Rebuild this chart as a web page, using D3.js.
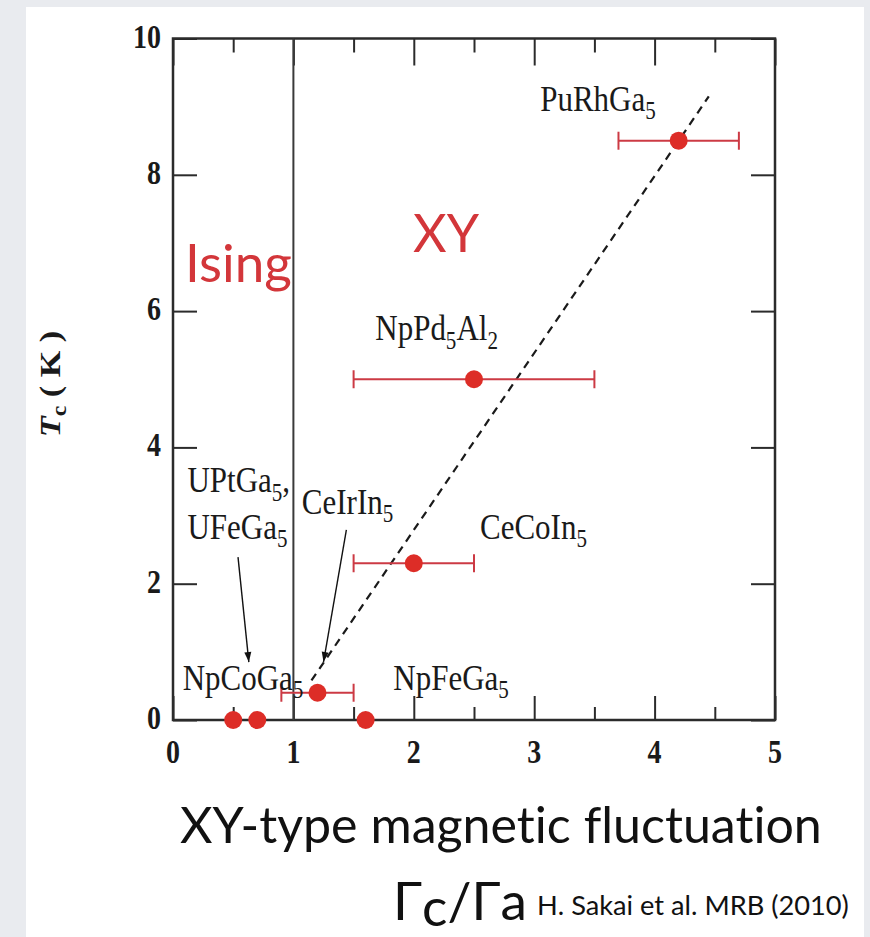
<!DOCTYPE html>
<html>
<head>
<meta charset="utf-8">
<script src="https://cdn.jsdelivr.net/npm/d3@7"></script>
<style>
  html, body { margin: 0; padding: 0; background: #e9ebef; }
  svg { display: block; }
  text { font-variant-ligatures: none; font-feature-settings: "liga" 0; }
</style>
</head>
<body>
<svg id="chart" width="870" height="937"></svg>
<script>
// ---- data ----
const compounds = ["PuRhGa5", "NpPd5Al2", "CeCoIn5", "CeIrIn5", "UPtGa5", "UFeGa5", "NpFeGa5"];
const ratio     = [4.2, 2.5, 2.0, 1.2, 0.5, 0.7, 1.6];   // Γc/Γa
const tc        = [8.5, 5.0, 2.3, 0.4, 0.0, 0.0, 0.0];   // Tc (K)
const ratioLo   = [3.7, 1.5, 1.5, 0.9, null, null, null];
const ratioHi   = [4.7, 3.5, 2.5, 1.5, null, null, null];

// dashed guide line (two end points)
const guideX = [1.15, 4.45];
const guideY = [0.58, 9.15];

const xMajor = [0, 1, 2, 3, 4, 5];
const xMinor = [0.5, 1.5, 2.5, 3.5, 4.5];
const yMajor = [0, 2, 4, 6, 8, 10];

// ---- layout ----
const svg = d3.select("#chart");
const x = d3.scaleLinear().domain([0, 5]).range([173, 775]);
const y = d3.scaleLinear().domain([0, 10]).range([720, 38.5]);
const RED = "#dd2d27";
const BAR = "#cc3a44";
const AX = "#2b2b2b";
const SERIF = "'Liberation Serif', 'Times New Roman', serif";
const SANS = "Lato, 'Open Sans', sans-serif";
const STRETCH = 1.18;

// white slide panel
svg.append("rect").attr("x", 26).attr("y", 7).attr("width", 838).attr("height", 940).attr("fill", "#ffffff");

// ---- axes (ticks point inward) ----
const axG = svg.append("g").attr("stroke-width", 2);

function tickAxis(gen, transform) {
  const g = axG.append("g").attr("transform", transform).call(gen);
  g.selectAll("text").remove();
  g.select(".domain").remove();
  g.selectAll("line").attr("stroke", AX).attr("stroke-width", 2);
  return g;
}
// bottom
tickAxis(d3.axisBottom(x).tickValues(xMajor).tickSize(-24), `translate(0,${y(0)})`);
tickAxis(d3.axisBottom(x).tickValues(xMinor).tickSize(-13), `translate(0,${y(0)})`);
// top
tickAxis(d3.axisTop(x).tickValues(xMajor).tickSize(-27), `translate(0,${y(10)})`);
tickAxis(d3.axisTop(x).tickValues(xMinor).tickSize(-14), `translate(0,${y(10)})`);
// left / right
tickAxis(d3.axisLeft(y).tickValues(yMajor).tickSize(-24), `translate(${x(0)},0)`);
tickAxis(d3.axisRight(y).tickValues(yMajor).tickSize(-24), `translate(${x(5)},0)`);

// frame
axG.append("rect")
  .attr("x", x(0)).attr("y", y(10))
  .attr("width", x(5) - x(0)).attr("height", y(0) - y(10))
  .attr("fill", "none").attr("stroke", AX).attr("stroke-width", 2.5);

// Ising / XY boundary at Γc/Γa = 1
axG.append("line")
  .attr("x1", x(1)).attr("x2", x(1)).attr("y1", y(10)).attr("y2", y(0))
  .attr("stroke", "#3a3a3a").attr("stroke-width", 2);

// stretched serif text helper
function serifText(px, py, parts, opts = {}) {
  const size = opts.size || 31;
  const g = svg.append("g").attr("transform", `translate(${px},${py}) scale(1,${STRETCH})`);
  const t = g.append("text")
    .attr("font-family", SERIF)
    .attr("font-size", size)
    .attr("font-weight", opts.weight || "normal")
    .attr("text-anchor", opts.anchor || "start")
    .attr("fill", opts.fill || "#1a1a1a");
  parts.forEach(p => {
    const s = t.append("tspan").text(p.t);
    if (p.sub) s.attr("font-size", size * 0.68).attr("dy", 7);
    if (p.back) s.attr("dy", -7);
  });
  return g;
}

// tick labels
xMajor.forEach(v => serifText(x(v), 763, [{ t: String(v) }], { size: 28, weight: "bold", anchor: "middle" }));
yMajor.forEach(v => serifText(161, y(v) + 9, [{ t: String(v) }], { size: 28, weight: "bold", anchor: "end" }));

// y axis title
{
  const g = svg.append("g").attr("transform", `translate(60,384) rotate(-90) scale(${STRETCH},1)`);
  const t = g.append("text").attr("font-family", SERIF).attr("font-size", 29)
    .attr("font-weight", "bold").attr("text-anchor", "middle").attr("fill", "#1a1a1a");
  t.append("tspan").text("T").attr("font-style", "italic");
  t.append("tspan").text("c").attr("font-size", 20).attr("dy", 6);
  t.append("tspan").text(" ( K )").attr("dy", -6);
}

// ---- dashed guide ----
svg.append("line")
  .attr("x1", x(guideX[0])).attr("y1", y(guideY[0]))
  .attr("x2", x(guideX[1])).attr("y2", y(guideY[1]))
  .attr("stroke", "#1a1a1a").attr("stroke-width", 2.2).attr("stroke-dasharray", "8,6");

// ---- error bars ----
const pts = compounds.map((c, i) => ({ c, x: ratio[i], y: tc[i], lo: ratioLo[i], hi: ratioHi[i] }));
const eb = svg.append("g").attr("stroke", BAR).attr("stroke-width", 2);
pts.filter(d => d.lo != null).forEach(d => {
  eb.append("line").attr("x1", x(d.lo)).attr("x2", x(d.hi)).attr("y1", y(d.y)).attr("y2", y(d.y));
  [d.lo, d.hi].forEach(v => eb.append("line")
    .attr("x1", x(v)).attr("x2", x(v)).attr("y1", y(d.y) - 9).attr("y2", y(d.y) + 9));
});

// ---- points ----
svg.append("g").selectAll("circle").data(pts).join("circle")
  .attr("cx", d => x(d.x)).attr("cy", d => y(d.y)).attr("r", 9)
  .attr("fill", RED);

// ---- arrows ----
const defs = svg.append("defs");
defs.append("marker").attr("id", "head").attr("viewBox", "0 0 10 10")
  .attr("refX", 10).attr("refY", 5).attr("markerWidth", 18).attr("markerHeight", 10)
  .attr("markerUnits", "userSpaceOnUse").attr("orient", "auto")
  .append("path").attr("d", "M0,1.5 L10,5 L0,8.5 Z").attr("fill", "#111");

const arrows = [
  { from: [0.54, 2.39], to: [0.63, 0.85] },
  { from: [1.44, 2.79], to: [1.25, 0.85] }
];
arrows.forEach(a => svg.append("line")
  .attr("x1", x(a.from[0])).attr("y1", y(a.from[1]))
  .attr("x2", x(a.to[0])).attr("y2", y(a.to[1]))
  .attr("stroke", "#111").attr("stroke-width", 1.4).attr("marker-end", "url(#head)"));

// ---- compound labels ----
const labels = [
  { at: [3.05, 8.94], parts: [{ t: "PuRhGa" }, { t: "5", sub: true }] },
  { at: [1.68, 5.57], parts: [{ t: "NpPd" }, { t: "5", sub: true }, { t: "Al", back: true }, { t: "2", sub: true }] },
  { at: [0.12, 3.34], parts: [{ t: "UPtGa" }, { t: "5", sub: true }, { t: ",", back: true }] },
  { at: [0.12, 2.66], parts: [{ t: "UFeGa" }, { t: "5", sub: true }] },
  { at: [1.07, 3.03], parts: [{ t: "CeIrIn" }, { t: "5", sub: true }] },
  { at: [2.55, 2.66], parts: [{ t: "CeCoIn" }, { t: "5", sub: true }] },
  { at: [0.08, 0.44], parts: [{ t: "NpCoGa" }, { t: "5", sub: true }] },
  { at: [1.83, 0.44], parts: [{ t: "NpFeGa" }, { t: "5", sub: true }] }
];
labels.forEach(l => serifText(x(l.at[0]), y(l.at[1]), l.parts));

// ---- slide text (sans) ----
function fitText(node, width) {
  const fs = +node.attr("font-size");
  const w = node.node().getComputedTextLength();
  node.attr("font-size", fs * width / w);
}
const ising = svg.append("text").attr("x", 185).attr("y", 282).text("Ising")
  .attr("font-family", SANS).attr("font-size", 50).attr("fill", "#d3363a");
fitText(ising, 107);
const xy = svg.append("text").attr("x", 413).attr("y", 252).text("XY")
  .attr("font-family", SANS).attr("font-size", 56).attr("fill", "#d3363a");
fitText(xy, 66);

const fluc = svg.append("text").attr("x", 180).attr("y", 843).text("XY-type magnetic fluctuation")
  .attr("font-family", SANS).attr("font-size", 48).attr("fill", "#111");
fitText(fluc, 642);

const gam = svg.append("text").attr("x", 393).attr("y", 920)
  .attr("font-family", SANS).attr("font-size", 76).attr("fill", "#111");
gam.append("tspan").text("Γ");
gam.append("tspan").text("c").attr("dy", 6);
gam.append("tspan").text("/Γ").attr("dy", -6);
gam.append("tspan").text("a");
fitText(gam, 134);

const cite = svg.append("text").attr("x", 537).attr("y", 915).text("H. Sakai et al. MRB (2010)")
  .attr("font-family", SANS).attr("font-size", 26).attr("fill", "#111");
fitText(cite, 312);
</script>
</body>
</html>
